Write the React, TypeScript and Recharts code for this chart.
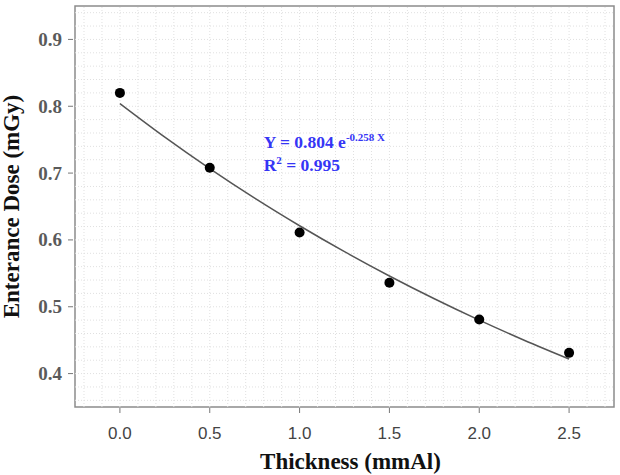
import React from 'react';
import {
  ComposedChart, Line, Scatter, XAxis, YAxis, ReferenceLine, ReferenceArea, ReferenceDot, Label
} from 'recharts';

// measured entrance dose per filter thickness
const thickness = [0, 0.5, 1.0, 1.5, 2.0, 2.5];
const dose = [0.82, 0.708, 0.611, 0.536, 0.481, 0.431];

// fitted curve Y = 0.804 e^(-0.258 X), tabulated every 0.25 mmAl
const fitX = [0, 0.25, 0.5, 0.75, 1.0, 1.25, 1.5, 1.75, 2.0, 2.25, 2.5];
const fitY = [0.804, 0.7538, 0.7067, 0.6625, 0.6212, 0.5824, 0.546, 0.5119, 0.4799, 0.4499, 0.4218];

const xTicks = [0, 0.5, 1.0, 1.5, 2.0, 2.5];
const yTicks = [0.4, 0.5, 0.6, 0.7, 0.8, 0.9];

const points = thickness.map((x, i) => ({ x, y: dose[i] }));
const fitData = fitX.map((x, i) => ({ x, y: fitY[i] }));

// fine dotted background grid
const gridX = Array.from({ length: 30 }, (_, i) => +(-0.2 + i * 0.1).toFixed(2));
const gridY = Array.from({ length: 30 }, (_, i) => +(0.36 + i * 0.02).toFixed(2));

const serif = "'Liberation Serif', 'Times New Roman', serif";
const sans = "'Liberation Sans', Arial, sans-serif";

const XTick = (props: any) => {
  const { x, y, payload } = props;
  return (
    <g>
      <line x1={x} x2={x} y1={y + 1} y2={y + 6} stroke="#777" strokeWidth={1} />
      <text x={x} y={y + 32} textAnchor="middle" fontFamily={sans} fontSize={17} fill="#444">
        {payload.value.toFixed(1)}
      </text>
    </g>
  );
};

const YTick = (props: any) => {
  const { x, y, payload } = props;
  return (
    <g>
      <line x1={x - 7} x2={x - 2} y1={y} y2={y} stroke="#777" strokeWidth={1} />
      <text x={x - 13} y={y} dy="0.34em" textAnchor="end" fontFamily={serif} fontWeight="bold" fontSize={19} fill="#5a5a5a">
        {payload.value.toFixed(1)}
      </text>
    </g>
  );
};

const Equation = (props: any) => {
  const { cx, cy } = props;
  return (
    <g fontFamily={serif} fontWeight="bold" fill="#3535f5">
      <text x={cx} y={cy} fontSize={17.5}>
        Y = 0.804 e<tspan fontSize={11} dy={-7}>-0.258 X</tspan>
      </text>
      <text x={cx} y={cy + 23} fontSize={17.5}>
        R<tspan fontSize={11} dy={-7}>2</tspan><tspan dy={7}> = 0.995</tspan>
      </text>
    </g>
  );
};

const Dot = (props: any) => <circle cx={props.cx} cy={props.cy} r={5} fill="#000" />;

export default function App() {
  return (
    <div style={{ position: 'absolute', left: 0, top: 0, width: 620, height: 475, background: '#fff' }}>
      <ComposedChart width={620} height={475} margin={{ top: 6, right: 6, left: 0, bottom: 0 }}>
        <XAxis
          type="number"
          dataKey="x"
          domain={[-0.25, 2.75]}
          ticks={xTicks}
          interval={0}
          allowDataOverflow
          axisLine={false}
          tickLine={false}
          tickSize={0}
          tickMargin={0}
          height={68}
          tick={<XTick />}
        >
          <Label
            content={(p: any) => {
              const vb = p.viewBox || { x: 75, width: 539 };
              return (
                <text x={vb.x + vb.width / 2 + 6} y={469} textAnchor="middle"
                  fontFamily={serif} fontWeight="bold" fontSize={23} fill="#111">
                  Thickness (mmAl)
                </text>
              );
            }}
          />
        </XAxis>
        <YAxis
          type="number"
          dataKey="y"
          domain={[0.35, 0.95]}
          ticks={yTicks}
          interval={0}
          allowDataOverflow
          axisLine={false}
          tickLine={false}
          tickSize={0}
          tickMargin={0}
          width={75}
          tick={<YTick />}
        >
          <Label
            content={(p: any) => {
              const vb = p.viewBox || { y: 6, height: 401 };
              const cy = vb.y + vb.height / 2;
              return (
                <text x={19} y={cy} transform={`rotate(-90 19 ${cy})`} textAnchor="middle"
                  fontFamily={serif} fontWeight="bold" fontSize={23} fill="#111">
                  Enterance Dose (mGy)
                </text>
              );
            }}
          />
        </YAxis>

        {gridX.map((v) => (
          <ReferenceLine key={`gx${v}`} x={v} stroke="#e0e0e0" strokeDasharray="1 2" />
        ))}
        {gridY.map((v) => (
          <ReferenceLine key={`gy${v}`} y={v} stroke="#e0e0e0" strokeDasharray="1 2" />
        ))}

        <ReferenceArea x1={-0.25} x2={2.75} y1={0.35} y2={0.95} fill="none" stroke="#8c8c8c" strokeWidth={1.5} />

        <Line
          data={fitData}
          dataKey="y"
          type="monotone"
          stroke="#555"
          strokeWidth={1.5}
          dot={false}
          activeDot={false}
          isAnimationActive={false}
        />
        <Scatter data={points} dataKey="y" shape={<Dot />} isAnimationActive={false} />

        <ReferenceDot x={0.8} y={0.738} r={0} shape={<Equation />} />
      </ComposedChart>
    </div>
  );
}
